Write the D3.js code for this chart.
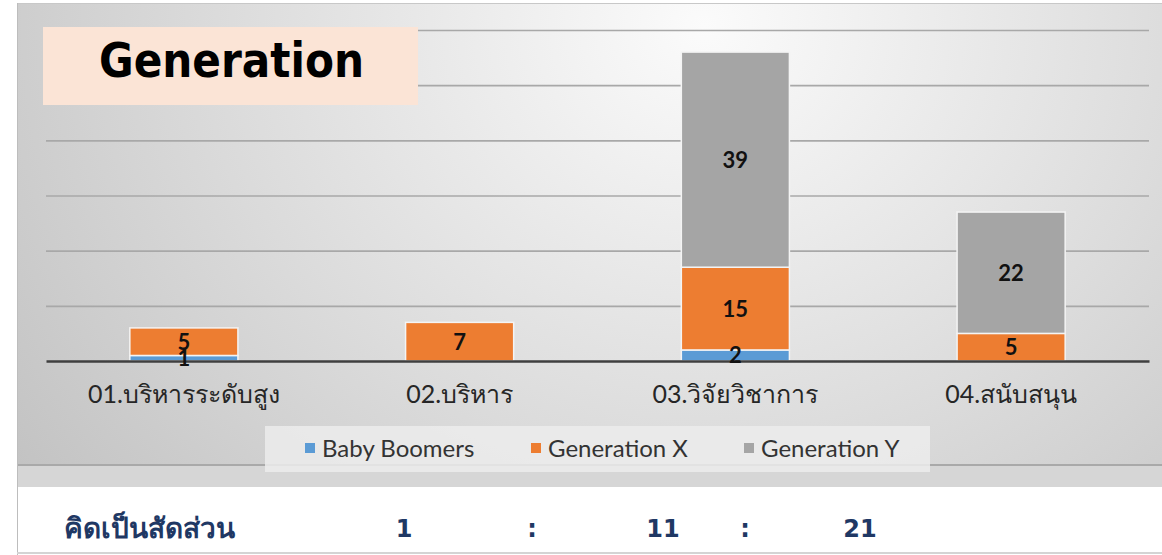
<!DOCTYPE html>
<html>
<head>
<meta charset="utf-8">
<script src="https://cdn.jsdelivr.net/npm/d3@7"></script>
<style>
    body { margin: 0; background: #fff; }
    svg { display: block; }
</style>
</head>
<body>
<div id="chart"></div>
<script>
// data
const categories = ['01.บริหารระดับสูง', '02.บริหาร', '03.วิจัยวิชาการ', '04.สนับสนุน'];
const seriesNames = ['Baby Boomers', 'Generation X', 'Generation Y'];
const babyBoomers = [1, 0, 2, 0];
const generationX = [5, 7, 15, 5];
const generationY = [0, 0, 39, 22];
const yTicks = [0, 10, 20, 30, 40, 50, 60];
const titleText = 'Generation';
const ratioLabel = 'คิดเป็นสัดส่วน';
const ratioParts = ['1', ':', '11', ':', '21'];

const colors = ['#5B9BD5', '#ED7D31', '#A5A5A5'];

function drawChart(place) {
    //1 - build table
    let dataset = categories.map((c, i) => ({
        cat: c,
        'Baby Boomers': babyBoomers[i],
        'Generation X': generationX[i],
        'Generation Y': generationY[i]
    }));
    let stacked = d3.stack().keys(seriesNames)(dataset);

    //2 - dimensions
    let dimensions = {
        width: 1162,
        height: 555,
        plot: { left: 46, right: 1149, top: 30, bottom: 361 }
    };

    //3 - draw canvas
    let svg = d3.select(place).append('svg')
        .attr('width', dimensions.width)
        .attr('height', dimensions.height);

    let defs = svg.append('defs');
    let grad = defs.append('radialGradient')
        .attr('id', 'bg')
        .attr('cx', '0.6').attr('cy', '0.05').attr('r', '0.75')
        .attr('gradientTransform', 'translate(0.6,0.05) scale(1,2.2) translate(-0.6,-0.05)');
    grad.append('stop').attr('offset', '0%').attr('stop-color', '#fbfbfb');
    grad.append('stop').attr('offset', '55%').attr('stop-color', '#dcdcdc');
    grad.append('stop').attr('offset', '100%').attr('stop-color', '#c2c2c2');

    // chart background
    svg.append('rect')
        .attr('x', 17).attr('y', 3)
        .attr('width', dimensions.width - 17).attr('height', 462)
        .attr('fill', 'url(#bg)');
    svg.append('line')
        .attr('x1', 17).attr('x2', dimensions.width).attr('y1', 3.5).attr('y2', 3.5)
        .attr('stroke', '#c8c8c8').attr('stroke-width', 1);

    // band under the chart
    svg.append('rect')
        .attr('x', 17).attr('y', 465)
        .attr('width', dimensions.width - 17).attr('height', 22)
        .attr('fill', '#d6d6d6');
    svg.append('line')
        .attr('x1', 17).attr('x2', dimensions.width).attr('y1', 465).attr('y2', 465)
        .attr('stroke', '#a9a9a9').attr('stroke-width', 2);
    svg.append('line')
        .attr('x1', 17.5).attr('x2', 17.5).attr('y1', 3).attr('y2', 555)
        .attr('stroke', '#bdbdbd').attr('stroke-width', 1);
    svg.append('line')
        .attr('x1', 17).attr('x2', dimensions.width).attr('y1', 553).attr('y2', 553)
        .attr('stroke', '#d4d4d4').attr('stroke-width', 2);

    //create scales
    let xScale = d3.scaleBand()
        .domain(categories)
        .range([dimensions.plot.left, dimensions.plot.right])
        .paddingInner(0.608)
        .paddingOuter(0.304);

    let yScale = d3.scaleLinear()
        .domain([0, 60])
        .range([dimensions.plot.bottom, dimensions.plot.top]);

    // grid
    let yAxisGenerator = d3.axisLeft(yScale)
        .tickValues(yTicks.slice(1))
        .tickSize(-(dimensions.plot.right - dimensions.plot.left))
        .tickFormat('');

    let yAxis = svg.append('g')
        .attr('transform', `translate(${dimensions.plot.left},0)`)
        .call(yAxisGenerator);
    yAxis.select('.domain').remove();
    yAxis.selectAll('.tick line')
        .attr('stroke', '#a8a8a8')
        .attr('stroke-width', 1.6);

    // bars
    let layers = svg.append('g').selectAll('g')
        .data(stacked)
        .join('g')
        .attr('fill', (d, i) => colors[i]);

    layers.selectAll('rect')
        .data(d => d.filter(s => s[1] - s[0] > 0))
        .join('rect')
        .attr('x', d => xScale(d.data.cat))
        .attr('y', d => yScale(d[1]))
        .attr('width', xScale.bandwidth())
        .attr('height', d => yScale(d[0]) - yScale(d[1]))
        .attr('stroke', '#f4f4f4')
        .attr('stroke-width', 1.5);

    // baseline
    let xAxisGenerator = d3.axisBottom(xScale).tickSize(0).tickPadding(24);
    let xAxis = svg.append('g')
        .attr('transform', `translate(0,${dimensions.plot.bottom})`)
        .call(xAxisGenerator);
    xAxis.select('.domain')
        .attr('stroke', '#3f3f3f')
        .attr('stroke-width', 2.6);
    xAxis.selectAll('text')
        .attr('fill', '#262626')
        .style('font-family', 'Lato, "Noto Sans", Tahoma, sans-serif')
        .style('font-size', '25px');

    // data labels (on top of the baseline)
    let labels = svg.append('g');
    stacked.forEach(layer => {
        labels.selectAll(null)
            .data(layer.filter(s => s[1] - s[0] > 0))
            .join('text')
            .attr('x', d => xScale(d.data.cat) + xScale.bandwidth() / 2)
            .attr('y', d => (yScale(d[0]) + yScale(d[1])) / 2)
            .attr('dy', '0.36em')
            .attr('text-anchor', 'middle')
            .attr('fill', '#111')
            .style('font-family', 'Lato, "Open Sans", sans-serif')
            .style('font-weight', 'bold')
            .style('font-size', '22px')
            .text(d => d[1] - d[0]);
    });

    // title box
    svg.append('rect')
        .attr('x', 43).attr('y', 27)
        .attr('width', 375).attr('height', 78)
        .attr('fill', '#FBE4D6');
    svg.append('text')
        .attr('x', 99).attr('y', 77)
        .attr('textLength', 265)
        .attr('lengthAdjust', 'spacingAndGlyphs')
        .style('font-family', '"DejaVu Sans", Verdana, sans-serif')
        .style('font-weight', 'bold')
        .style('font-size', '48px')
        .attr('fill', '#000')
        .text(titleText);

    // legend
    let legend = svg.append('g');
    legend.append('rect')
        .attr('x', 265).attr('y', 426)
        .attr('width', 665).attr('height', 46)
        .attr('fill', '#ececec')
        .attr('opacity', 0.85);
    let legendX = [305, 531, 744];
    let item = legend.selectAll('g.item')
        .data(seriesNames)
        .join('g')
        .attr('class', 'item')
        .attr('transform', (d, i) => `translate(${legendX[i]},448)`);
    item.append('rect')
        .attr('x', 0).attr('y', -5)
        .attr('width', 10).attr('height', 10)
        .attr('fill', (d, i) => colors[i]);
    item.append('text')
        .attr('x', 17).attr('dy', '0.36em')
        .attr('fill', '#333')
        .style('font-family', 'Lato, "Open Sans", sans-serif')
        .style('font-size', '24px')
        .text(d => d);

    // ratio line
    let ratio = svg.append('g')
        .attr('fill', '#1F3864')
        .style('font-family', '"DejaVu Sans", Tahoma, sans-serif')
        .style('font-weight', 'bold')
        .style('font-size', '24px');
    ratio.append('text')
        .attr('x', 64).attr('y', 538)
        .style('font-size', '28px')
        .text(ratioLabel);
    let ratioX = [404, 532, 663, 745, 860];
    ratio.selectAll('text.part')
        .data(ratioParts)
        .join('text')
        .attr('class', 'part')
        .attr('x', (d, i) => ratioX[i])
        .attr('y', 537)
        .attr('text-anchor', 'middle')
        .text(d => d);
}

drawChart('#chart');
</script>
</body>
</html>
